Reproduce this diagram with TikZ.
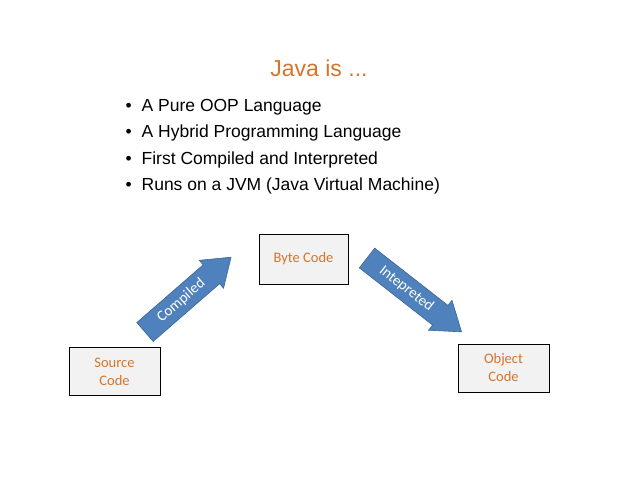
\documentclass[tikz,border=0pt]{standalone}
\usepackage{fontspec}
\setmainfont{Liberation Sans}
\newfontfamily\carlitofont{Carlito}
\definecolor{jorange}{HTML}{D3752F}
\definecolor{jblue}{HTML}{4F81BD}
\definecolor{jblueb}{HTML}{3B6596}
\begin{document}
\begin{tikzpicture}[x=1pt,y=1pt,
  box/.style={draw=black,fill=black!5,line width=0.8pt,minimum width=91pt,minimum height=48pt,align=center,font=\carlitofont\fontsize{14.5}{18}\selectfont,text=jorange},
  barrow/.style={fill=jblue,draw=jblueb,line width=0.6pt},
  alabel/.style={text=white,font=\carlitofont\fontsize{15}{17}\selectfont}]
\useasboundingbox (0,0) rectangle (638,479);
\node[text=jorange,font=\fontsize{23}{26}\selectfont] (title) at (319,411) {Java is ...};
\foreach \t [count=\i] in {A Pure OOP Language,A Hybrid Programming Language,First Compiled and Interpreted,Runs on a JVM (Java Virtual Machine)}{
  \node[anchor=west,font=\fontsize{17.5}{20}\selectfont] (b\i) at (122,479-107-26.3*\i+26.3) {\textbullet\hspace{10pt}\t};
}
\node[box] (src) at (114.5,107.5) {Source\\Code};
\node[box,minimum width=89pt,minimum height=50pt] (byte) at (303.5,220) {Byte Code};
\node[box] (obj) at (503.5,111) {Object\\Code};
\begin{scope}[shift={(145,147)},rotate=41]
  \draw[barrow] (0,-12.5)--(88,-12.5)--(88,-18.5)--(114,0)--(88,18.5)--(88,12.5)--(0,12.5)--cycle;
  \node[alabel,rotate=41] (comp) at (48,0) {Compiled};
\end{scope}
\begin{scope}[shift={(367,221)},rotate=-38]
  \draw[barrow] (0,-12.5)--(93,-12.5)--(93,-19)--(120,0)--(93,19)--(93,12.5)--(0,12.5)--cycle;
  \node[alabel,rotate=-38] (interp) at (50,0) {Intepreted};
\end{scope}
\end{tikzpicture}
\end{document}
